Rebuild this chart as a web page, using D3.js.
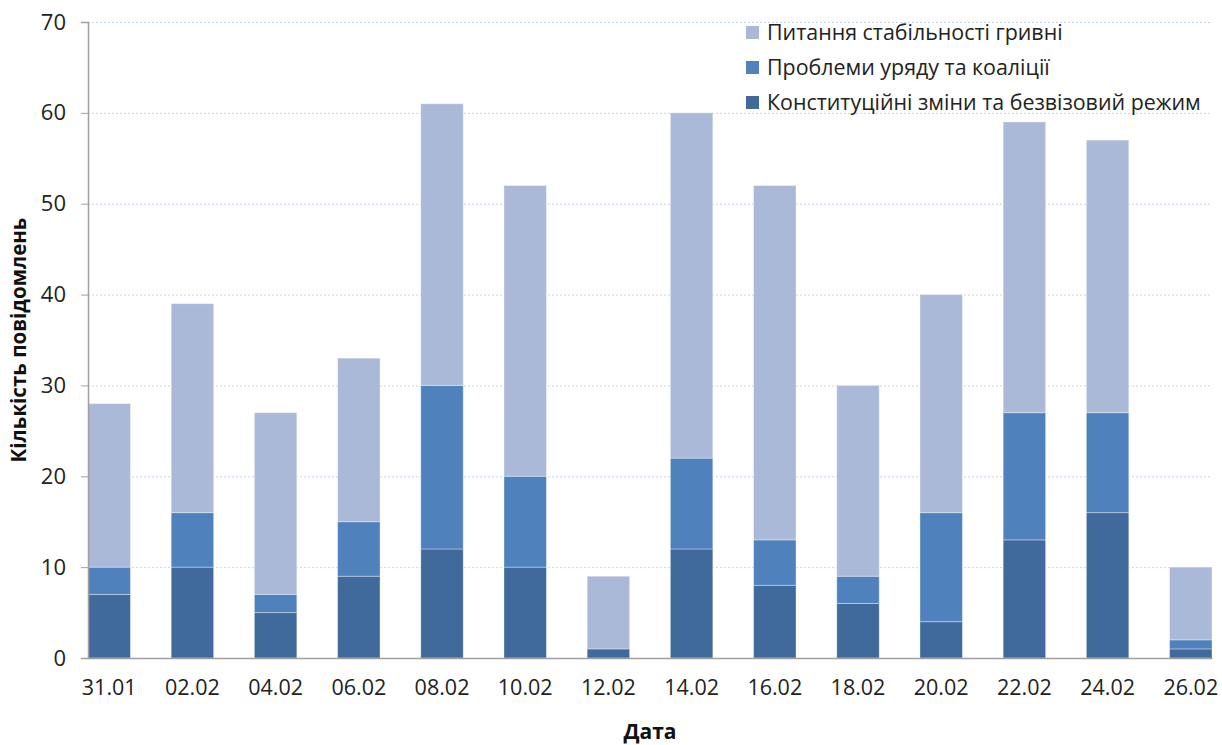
<!DOCTYPE html>
<html>
<head>
<meta charset="utf-8">
<script src="https://cdn.jsdelivr.net/npm/d3@7"></script>
<style>
  body { margin: 0; background: #fff; }
  text { font-family: "Open Sans", "Noto Sans", sans-serif; }
</style>
</head>
<body>
<div id="chart"></div>
<script>
const dates = ["31.01", "02.02", "04.02", "06.02", "08.02", "10.02", "12.02",
               "14.02", "16.02", "18.02", "20.02", "22.02", "24.02", "26.02"];
const constitution = [7, 10, 5, 9, 12, 10, 1, 12, 8, 6, 4, 13, 16, 1];
const government = [3, 6, 2, 6, 18, 10, 0, 10, 5, 3, 12, 14, 11, 1];
const hryvnia = [18, 23, 20, 18, 31, 32, 8, 38, 39, 21, 24, 32, 30, 8];
const seriesNames = ["Конституційні зміни та безвізовий режим", "Проблеми уряду та коаліції", "Питання стабільності гривні"];
const yTicks = [0, 10, 20, 30, 40, 50, 60, 70];

const colors = ["#3f6a9b", "#4f81bd", "#aab9d7"];

const width = 1222, height = 745;
const margin = { top: 22, right: 10, bottom: 87, left: 88 };

const svg = d3.select("#chart").append("svg")
    .attr("width", width)
    .attr("height", height);

const rows = dates.map((d, i) => ({
    date: d,
    s0: constitution[i],
    s1: government[i],
    s2: hryvnia[i]
}));

const stacked = d3.stack().keys(["s0", "s1", "s2"])(rows);

const x = d3.scaleBand()
    .domain(dates)
    .range([margin.left, width - margin.right])
    .paddingInner(0.49)
    .paddingOuter(0);

const y = d3.scaleLinear()
    .domain([0, 70])
    .range([height - margin.bottom, margin.top]);

// grille
svg.append("g")
    .selectAll("line")
    .data(yTicks.slice(1))
    .enter().append("line")
    .attr("x1", margin.left)
    .attr("x2", width - margin.right)
    .attr("y1", d => y(d) + 0.5)
    .attr("y2", d => y(d) + 0.5)
    .attr("stroke", "#c5d5ea")
    .attr("stroke-dasharray", "2,2");

// barres
svg.append("g")
    .selectAll("g")
    .data(stacked)
    .enter().append("g")
    .attr("fill", (d, i) => colors[i])
    .selectAll("rect")
    .data(d => d)
    .enter().append("rect")
    .attr("x", d => x(d.data.date))
    .attr("y", d => y(d[1]))
    .attr("width", x.bandwidth())
    .attr("height", d => y(d[0]) - y(d[1]))
    .attr("stroke", "rgba(255,255,255,0.35)")
    .attr("stroke-width", 1);

// axe Y
const yAxis = svg.append("g")
    .attr("transform", `translate(${margin.left},0)`)
    .call(d3.axisLeft(y).tickValues(yTicks).tickSize(7).tickPadding(15));
yAxis.selectAll("line").attr("stroke", "#a0a0a0");
yAxis.select(".domain").attr("stroke", "#a0a0a0").attr("stroke-width", 1.5);
yAxis.selectAll("text")
    .attr("font-size", "22px")
    .attr("fill", "#222")
    .attr("font-family", "Open Sans, sans-serif");

// axe X
const xAxis = svg.append("g")
    .attr("transform", `translate(0,${height - margin.bottom})`)
    .call(d3.axisBottom(x).tickSize(0).tickPadding(22));
xAxis.select(".domain").attr("stroke", "#a0a0a0").attr("stroke-width", 1.5);
xAxis.selectAll("text")
    .attr("font-size", "21.5px")
    .attr("fill", "#222")
    .attr("font-family", "Open Sans, sans-serif");

// titres des axes
svg.append("text")
    .attr("x", (margin.left + width - margin.right) / 2)
    .attr("y", 739)
    .attr("text-anchor", "middle")
    .attr("font-size", "21px")
    .attr("font-weight", "bold")
    .attr("fill", "#111")
    .text("Дата");

svg.append("text")
    .attr("transform", "translate(26,340) rotate(-90)")
    .attr("text-anchor", "middle")
    .attr("font-size", "20.5px")
    .attr("font-weight", "bold")
    .attr("fill", "#111")
    .text("Кількість повідомлень");

// légende
const legendOrder = [2, 1, 0];
const legend = svg.append("g").attr("transform", "translate(746,32)");
legendOrder.forEach((k, i) => {
    const g = legend.append("g").attr("transform", `translate(0,${i * 35})`);
    g.append("rect")
        .attr("x", 0).attr("y", -6)
        .attr("width", 13).attr("height", 13)
        .attr("fill", colors[k]);
    g.append("text")
        .attr("x", 21).attr("y", 0)
        .attr("dy", "0.35em")
        .attr("font-size", "21.4px")
        .attr("fill", "#222")
        .text(seriesNames[k]);
});
</script>
</body>
</html>
